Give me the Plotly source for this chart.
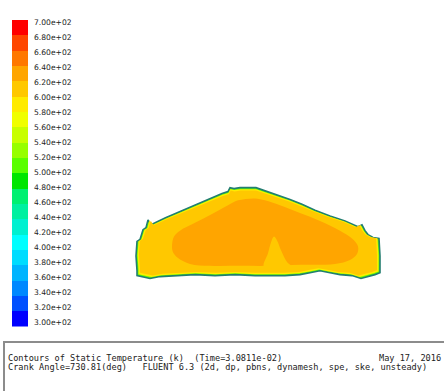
import plotly.graph_objects as go

# ---- colour scale: static temperature levels (K) and their tick labels ----
levels = [300, 320, 340, 360, 380, 400, 420, 440, 460, 480, 500,
          520, 540, 560, 580, 600, 620, 640, 660, 680, 700]
level_labels = ["3.00e+02", "3.20e+02", "3.40e+02", "3.60e+02", "3.80e+02",
                "4.00e+02", "4.20e+02", "4.40e+02", "4.60e+02", "4.80e+02",
                "5.00e+02", "5.20e+02", "5.40e+02", "5.60e+02", "5.80e+02",
                "6.00e+02", "6.20e+02", "6.40e+02", "6.60e+02", "6.80e+02",
                "7.00e+02"]

# one colour per band, blue (cold) to red (hot)
band_colors = ["#0000ff", "#0050ff", "#0088ff", "#00b4ff", "#00dcff",
               "#00ffff", "#00f0d0", "#00f0a0", "#00f070", "#00e600",
               "#5aff00", "#96ff00", "#c8ff00", "#f0ff00", "#ffeb00",
               "#ffc800", "#ffa500", "#ff7800", "#ff4600", "#ff0000"]

# ---- chamber geometry (mm) ----
wall_x = [0.8, 0.4, 0.8, 2.0, 3.2, 4.4, 5.2, 6.4, 12.0, 20.0, 28.0, 34.8,
          37.2, 38.0, 39.6, 42.0, 48.4, 50.8, 53.2, 58.0, 62.0, 66.8, 72.0,
          78.0, 84.0, 89.2, 90.8, 92.0, 93.2, 95.2, 97.6, 98.0, 98.0, 96.0,
          93.2, 90.4, 86.8, 82.0, 78.0, 74.0, 70.0, 66.0, 60.0, 54.0, 48.0,
          40.0, 32.0, 24.0, 16.0, 10.0, 6.0, 3.2, 0.8]
wall_y = [3.2, 9.2, 15.2, 16.0, 20.0, 20.8, 24.0, 22.0, 24.8, 28.4, 32.0,
          34.8, 35.6, 37.2, 36.8, 37.2, 37.2, 36.4, 35.6, 34.0, 32.4, 30.4,
          28.0, 25.6, 23.6, 21.2, 22.0, 19.6, 18.0, 16.8, 16.4, 9.2, 2.4,
          1.6, 0.8, 0.0, 1.2, 1.6, 2.4, 3.2, 2.4, 1.6, 1.2, 1.2, 1.2, 1.6,
          1.2, 1.6, 1.2, 0.8, 0.0, 0.8, 1.2]

# hot core of the charge
core_x = [14.8, 15.6, 18.0, 24.0, 30.8, 37.2, 41.2, 48.0, 52.0, 58.0, 66.0,
          74.0, 82.0, 86.8, 89.2, 88.8, 86.0, 80.0, 66.0, 54.0, 42.0, 30.0,
          22.0, 17.2, 15.2]
core_y = [13.2, 17.2, 19.6, 22.8, 26.4, 30.0, 32.0, 32.8, 32.0, 30.0, 26.8,
          23.6, 19.6, 16.4, 13.2, 10.0, 7.6, 6.0, 5.6, 5.2, 5.2, 5.2, 6.0,
          8.4, 10.8]

# cooler tongue rising from the piston into the core
tongue_x = [51.6, 53.2, 54.4, 55.6, 56.8, 58.4, 60.8, 62.8]
tongue_y = [4.8, 10.4, 14.8, 17.2, 15.6, 11.6, 6.8, 4.8]

# representative temperatures of each zone (K)
wall_band_T = 505
near_wall_T = 590
bulk_T = 610
core_T = 630
tongue_T = 610


def band_color(t):
    for i in range(len(levels) - 1):
        if levels[i] <= t < levels[i + 1]:
            return band_colors[i]
    return band_colors[-1]


def inset(xs, ys, d):
    """Pull an outline inward by roughly d mm."""
    cx = (min(xs) + max(xs)) / 2
    cy = (min(ys) + max(ys)) / 2
    sx = 1 - 2 * d / (max(xs) - min(xs))
    sy = 1 - 2 * d / (max(ys) - min(ys))
    return ([cx + (x - cx) * sx for x in xs], [cy + (y - cy) * sy for y in ys])


def closed(xs, ys):
    return list(xs) + [xs[0]], list(ys) + [ys[0]]


fig = go.Figure()

# wall band with dark outline
wx, wy = closed(wall_x, wall_y)
fig.add_trace(go.Scatter(x=wx, y=wy, mode="lines", fill="toself",
                         fillcolor=band_color(wall_band_T),
                         line=dict(color="#237d70", width=1.6),
                         hoverinfo="skip"))
nx, ny = closed(*inset(wall_x, wall_y, 0.6))
fig.add_trace(go.Scatter(x=nx, y=ny, mode="lines", fill="toself",
                         fillcolor=band_color(near_wall_T),
                         line=dict(width=0), hoverinfo="skip"))
bx, by = closed(*inset(wall_x, wall_y, 1.2))
fig.add_trace(go.Scatter(x=bx, y=by, mode="lines", fill="toself",
                         fillcolor=band_color(bulk_T),
                         line=dict(width=0), hoverinfo="skip"))
cx_, cy_ = closed(core_x, core_y)
fig.add_trace(go.Scatter(x=cx_, y=cy_, mode="lines", fill="toself",
                         fillcolor=band_color(core_T), line=dict(width=0),
                         line_shape="spline", hoverinfo="skip"))
tx, ty = closed(tongue_x, tongue_y)
fig.add_trace(go.Scatter(x=tx, y=ty, mode="lines", fill="toself",
                         fillcolor=band_color(tongue_T), line=dict(width=0),
                         line_shape="spline", hoverinfo="skip"))

# colour bar drawn as stacked blocks
fig.add_trace(go.Bar(x=[0] * (len(levels) - 1),
                     y=[levels[i + 1] - levels[i] for i in range(len(levels) - 1)],
                     base=levels[:-1], marker=dict(color=band_colors, line=dict(width=0)),
                     width=1, xaxis="x2", yaxis="y2", hoverinfo="skip"))
# carrier for the colour bar labels
fig.add_trace(go.Scatter(x=[0] * len(levels), y=levels, mode="markers",
                         marker=dict(opacity=0), xaxis="x2", yaxis="y3",
                         hoverinfo="skip"))

W, H = 444, 391
label_font = dict(family="DejaVu Sans", size=7.6, color="#222222")
text_font = dict(family="DejaVu Sans Mono", size=8.6, color="#222222")
nb = "\u00a0"

fig.update_layout(
    width=W, height=H, margin=dict(l=0, r=0, t=0, b=0),
    paper_bgcolor="white", plot_bgcolor="rgba(0,0,0,0)", showlegend=False,
    xaxis=dict(domain=[0, 1], range=[-54, 123.6], visible=False),
    yaxis=dict(domain=[0, 1], range=[-44, 112.4], visible=False),
    xaxis2=dict(domain=[12 / W, 28 / W], range=[-0.5, 0.5], visible=False,
                anchor="y2"),
    yaxis2=dict(domain=[1 - 330 / H, 1 - 16 / H], range=[levels[0], levels[-1]],
                visible=False, anchor="x2"),
    yaxis3=dict(domain=[1 - 326 / H, 1 - 19 / H], range=[levels[0], levels[-1]],
                anchor="free", position=33 / W, side="right",
                tickmode="array", tickvals=levels, ticktext=level_labels,
                ticks="", showline=False, showgrid=False, zeroline=False,
                tickfont=label_font),
    bargap=0,
)

# title block
fig.add_shape(type="rect", xref="paper", yref="paper",
              x0=4 / W, x1=1.05, y0=-0.05, y1=1 - 346 / H,
              line=dict(color="#8c8c8c", width=2), fillcolor="white")
fig.add_annotation(xref="paper", yref="paper", x=6 / W, y=1 - 362 / H,
                   xanchor="left", yanchor="middle", showarrow=False,
                   text="Contours of Static Temperature (k)" + nb * 2 + "(Time=3.0811e-02)",
                   font=text_font)
fig.add_annotation(xref="paper", yref="paper", x=443 / W, y=1 - 362 / H,
                   xanchor="right", yanchor="middle", showarrow=False,
                   text="May 17, 2016", font=text_font)
fig.add_annotation(xref="paper", yref="paper", x=6 / W, y=1 - 372 / H,
                   xanchor="left", yanchor="middle", showarrow=False,
                   text="Crank Angle=730.81(deg)" + nb * 3 +
                        "FLUENT 6.3 (2d, dp, pbns, dynamesh, spe, ske, unsteady)",
                   font=text_font)

fig.write_html("out.html")
